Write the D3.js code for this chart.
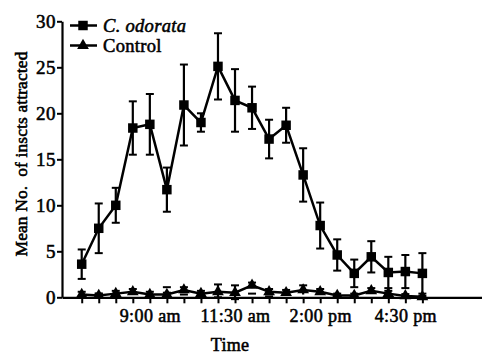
<!DOCTYPE html>
<html>
<head>
<meta charset="utf-8">
<script src="https://cdn.jsdelivr.net/npm/d3@7"></script>
<style>
html,body{margin:0;padding:0;background:#fff;}
svg{display:block;}
</style>
</head>
<body>
<svg id="chart" width="482" height="354"></svg>
<script>
// ---- data ----
const times = ["7:00 am","7:30 am","8:00 am","8:30 am","9:00 am","9:30 am","10:00 am","10:30 am","11:00 am","11:30 am","12:00 pm","12:30 pm","1:00 pm","1:30 pm","2:00 pm","2:30 pm","3:00 pm","3:30 pm","4:00 pm","4:30 pm","5:00 pm"];
const tickLabels = ["9:00 am","11:30 am","2:00 pm","4:30 pm"];
const odorataMean = [3.6,7.5,10.0,18.4,18.8,11.7,20.9,19.0,25.1,21.4,20.6,17.2,18.7,13.3,7.8,4.6,2.6,4.4,2.7,2.8,2.6];
const odorataErr  = [1.6,2.7,1.9,2.9,3.3,2.4,4.4,1.0,3.6,3.4,2.3,2.1,1.9,2.9,2.5,1.7,1.5,1.7,1.7,1.8,2.2];
const controlMean = [0.3,0.2,0.4,0.6,0.3,0.3,0.8,0.4,0.6,0.5,1.3,0.6,0.5,0.8,0.6,0.2,0.2,0.7,0.4,0.15,0.05];
const controlErr  = [0.3,0.2,0.3,0.3,0.3,0.2,0.3,0.3,0.8,0.8,0.3,0.3,0.3,0.5,0.3,0.2,0.2,0.3,0.3,0.2,0.1];
const yTicks = [0,5,10,15,20,25,30];
const seriesNames = ["C. odorata","Control"];

// ---- chart ----
const svg = d3.select("#chart");
function styleText(sel, size, ls) {
  return sel.style("font-family", '"Liberation Serif"').style("font-size", size + "px")
    .style("font-weight", "normal").style("fill", "#000")
    .style("stroke", "#000").style("stroke-width", "0.55px")
    .style("letter-spacing", (ls || 0) + "px");
}
const x = d3.scaleLinear().domain([-1.157, 23.5]).range([62, 482]);
const y = d3.scaleLinear().domain([0, 30]).range([297.3, 21.3]);

// axes
const xAxis = d3.axisBottom(x)
  .tickValues(d3.range(times.length))
  .tickSize(6).tickSizeOuter(0)
  .tickFormat(i => tickLabels.includes(times[i]) ? times[i] : "");
const gx = svg.append("g").attr("transform", `translate(0,${y(0)})`).call(xAxis);
gx.select(".domain").attr("stroke", "#000").attr("stroke-width", 2.2);
gx.selectAll(".tick line").attr("stroke", "#000").attr("stroke-width", 2);
styleText(gx.selectAll(".tick text"), 18, 0.4).attr("dy", "0.98em").attr("y", 7);

const yAxis = d3.axisLeft(y).tickValues(yTicks).tickSize(5).tickSizeOuter(0).tickPadding(1);
const gy = svg.append("g").attr("transform", `translate(${x.range()[0]},0)`).call(yAxis);
gy.select(".domain").attr("stroke", "#000").attr("stroke-width", 2.2);
gy.selectAll(".tick line").attr("stroke", "#000").attr("stroke-width", 2);
styleText(gy.selectAll(".tick text"), 19, 0.5).attr("dy", "0.34em");

// axis titles
styleText(svg.append("text"), 18, 0.3).attr("x", 230).attr("y", 351).attr("text-anchor", "middle").text("Time");
styleText(svg.append("text"), 17.5, 0.1).attr("transform", "translate(27,154) rotate(-90)")
  .attr("text-anchor", "middle").style("white-space", "pre")
  .text("Mean No.  of inscts attracted");

const sq = d3.symbol().type(d3.symbolSquare).size(90);
const tri = d3.symbol().type(d3.symbolTriangle).size(60);

function drawSeries(means, errs, sym) {
  const g = svg.append("g");
  const eb = g.selectAll(".eb").data(means).join("g");
  eb.append("line")
    .attr("x1", (d, i) => x(i)).attr("x2", (d, i) => x(i))
    .attr("y1", (d, i) => y(d + errs[i])).attr("y2", (d, i) => y(Math.max(0, d - errs[i])))
    .attr("stroke", "#000").attr("stroke-width", 2.2);
  eb.append("line")
    .attr("x1", (d, i) => x(i) - 4).attr("x2", (d, i) => x(i) + 4)
    .attr("y1", (d, i) => y(d + errs[i])).attr("y2", (d, i) => y(d + errs[i]))
    .attr("stroke", "#000").attr("stroke-width", 2);
  eb.filter((d, i) => d - errs[i] > 0).append("line")
    .attr("x1", (d, i) => x(i) - 4).attr("x2", (d, i) => x(i) + 4)
    .attr("y1", (d, i) => y(d - errs[i])).attr("y2", (d, i) => y(d - errs[i]))
    .attr("stroke", "#000").attr("stroke-width", 2);
  g.append("path").datum(means)
    .attr("d", d3.line().x((d, i) => x(i)).y(d => y(d)))
    .attr("fill", "none").attr("stroke", "#000").attr("stroke-width", 2.5);
  g.selectAll(".m").data(means).join("path")
    .attr("transform", (d, i) => `translate(${x(i)},${y(d)})`)
    .attr("d", sym).attr("fill", "#000");
}
drawSeries(controlMean, controlErr, tri);
drawSeries(odorataMean, odorataErr, sq);

// legend
const legend = svg.append("g");
const legendRows = [{name: seriesNames[0], sym: sq, y: 25.5, italic: true, size: 18.5},
                    {name: seriesNames[1], sym: tri, y: 45.5, italic: false, size: 18.5}];
legendRows.forEach(r => {
  legend.append("line").attr("x1", 70).attr("x2", 97).attr("y1", r.y).attr("y2", r.y)
    .attr("stroke", "#000").attr("stroke-width", 2.5);
  legend.append("path").attr("transform", `translate(83,${r.y})`).attr("d", r.sym).attr("fill", "#000");
  styleText(legend.append("text"), r.size, 0.3).attr("x", 103).attr("y", r.y + 6.5)
    .style("font-style", r.italic ? "italic" : "normal").text(r.name);
});
</script>
</body>
</html>
